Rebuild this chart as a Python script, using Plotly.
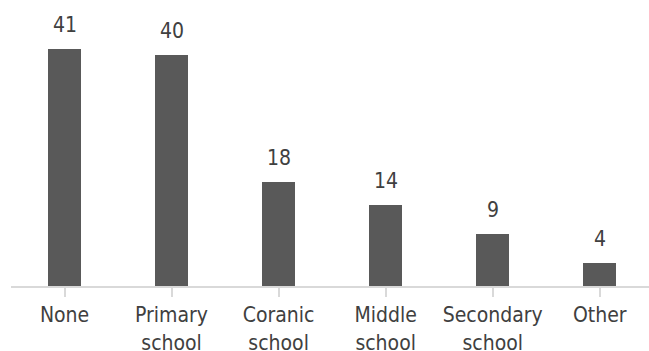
import plotly.graph_objects as go

categories = ["None", "Primary<br>school", "Coranic<br>school", "Middle<br>school", "Secondary<br>school", "Other"]
values = [41, 40, 18, 14, 9, 4]
labels = ["41", "40", "18", "14", "9", "4"]

FONT = "DejaVu Sans Condensed, Liberation Sans, Arial, sans-serif"
TXT = "#404040"

fig = go.Figure()
fig.add_trace(go.Bar(x=list(range(len(categories))), y=values, width=0.31,
                     marker=dict(color="#595959", line=dict(width=0))))

for i, (v, t) in enumerate(zip(values, labels)):
    fig.add_annotation(x=i, y=v, text=t, showarrow=False, yanchor="bottom",
                       yshift=10, font=dict(family=FONT, size=21, color=TXT))

fig.update_layout(
    width=649, height=351,
    margin=dict(l=11, r=0, t=0, b=65),
    paper_bgcolor="white", plot_bgcolor="white",
    showlegend=False,
    bargap=0,
    xaxis=dict(range=[-0.5, 5.46], tickmode="array", tickvals=list(range(len(categories))),
               ticktext=categories, showline=True, linecolor="#d9d9d9", linewidth=2,
               ticks="outside", tickson="boundaries", ticklen=9, tickcolor="#d9d9d9", tickwidth=2,
               showgrid=False, zeroline=False, fixedrange=True, automargin=False,
               tickfont=dict(family=FONT, size=21, color=TXT)),
    yaxis=dict(range=[0, 49.5], visible=False, showgrid=False, zeroline=False, automargin=False),
)

fig.write_html("out.html")
